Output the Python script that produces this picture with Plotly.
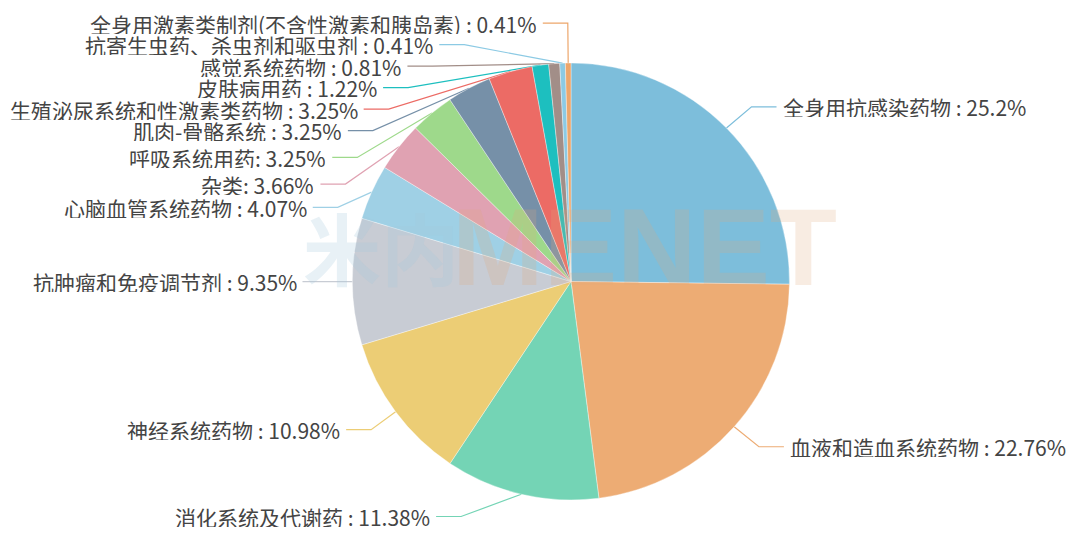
import math
import plotly.graph_objects as go

# 药品类别及占比 (%)，顺时针从12点方向开始
categories = [
    '全身用抗感染药物', '血液和造血系统药物', '消化系统及代谢药', '神经系统药物',
    '抗肿瘤和免疫调节剂', '心脑血管系统药物', '杂类', '呼吸系统用药',
    '肌肉-骨骼系统', '生殖泌尿系统和性激素类药物', '皮肤病用药', '感觉系统药物',
    '抗寄生虫药、杀虫剂和驱虫剂', '全身用激素类制剂(不含性激素和胰岛素)',
]
shares = [25.2, 22.76, 11.38, 10.98, 9.35, 4.07, 3.66, 3.25, 3.25, 3.25, 1.22, 0.81, 0.41, 0.41]
separators = [' : ', ' : ', ' : ', ' : ', ' : ', ' : ', ': ', ': ', ' : ', ' : ', ' : ', ' : ', ' : ', ' : ']
colors = [
    '#7dbedb', '#edac74', '#74d4b5', '#eccd75', '#c8ccd4', '#9fd0e5', '#e0a2b2',
    '#9ed98b', '#7690a8', '#ec6b65', '#1dbfbf', '#a28e88', '#8ccae4', '#eda66b',
]

W, H = 1080, 538
CX, CY, R = 571, 281.5, 218.5
LEN1, LEN2, GAP = 30, 25, 5
LINE_H = 21.5

# ---- 标签布局 (类似 echarts 的外部标签 + 引导线) ----
total = sum(shares)
items = []
acc = 0
for i, v in enumerate(shares):
    mid = (acc + v / 2) / total * 2 * math.pi
    acc += v
    dx, dy = math.sin(mid), -math.cos(mid)
    side = 1 if dx >= 0 else -1
    x1 = CX + (R + LEN1) * dx
    items.append(dict(i=i, side=side,
                      x0=CX + R * dx, y0=CY + R * dy,
                      y=CY + (R + LEN1) * dy,
                      tx=x1 + side * (LEN2 + GAP)))


def change_x(lst, is_down, side):
    last = float('inf') if is_down else 0
    for it in lst:
        ady = abs(it['y'] - CY)
        if ady < R + LEN1:
            ddx = math.sqrt((R + LEN1 + LEN2) ** 2 - ady ** 2)
        else:
            ddx = abs(it['tx'] - CX)
        if is_down and ddx >= last:
            ddx = last - 10
        if not is_down and ddx <= last:
            ddx = last + 10
        it['tx'] = CX + ddx * side
        last = ddx


def adjust_side(lst, side):
    lst.sort(key=lambda it: it['y'])
    n = len(lst)

    def shift_up(end, delta):
        for j in range(end, -1, -1):
            if lst[j]['y'] - delta < 0:
                break
            lst[j]['y'] -= delta
            if j > 0 and lst[j]['y'] > lst[j - 1]['y'] + LINE_H:
                break

    def shift_down(start, end, delta):
        for j in range(start, end):
            if lst[j]['y'] + delta > H:
                break
            lst[j]['y'] += delta
            if j > start and j + 1 < end and lst[j + 1]['y'] > lst[j]['y'] + LINE_H:
                shift_up(j, delta / 2)
                return
        shift_up(end - 1, delta / 2)

    last = 0
    for k in range(n):
        d = lst[k]['y'] - last
        if d < 0:
            shift_down(k, n, -d)
        last = lst[k]['y'] + LINE_H
    if H - last < 0:
        shift_up(n - 1, last - H)
    change_x([it for it in lst if it['y'] < CY], False, side)
    change_x([it for it in lst if it['y'] >= CY], True, side)


adjust_side([it for it in items if it['side'] > 0], 1)
adjust_side([it for it in items if it['side'] < 0], -1)


def px(x):
    return x / W


def py(y):
    return 1 - y / H


fig = go.Figure(go.Pie(
    labels=categories,
    values=shares,
    sort=False,
    direction='clockwise',
    rotation=0,
    marker=dict(colors=colors, line=dict(color='rgba(255,255,255,0.6)', width=0.6)),
    textinfo='none',
    hoverinfo='label+percent',
    showlegend=False,
    domain=dict(x=[px(CX - R), px(CX + R)], y=[py(CY + R), py(CY - R)]),
))

shapes = []
annotations = []
for it in items:
    i, s = it['i'], it['side']
    x2 = it['tx'] - s * GAP
    x1 = x2 - s * LEN2
    y = it['y']
    path = 'M {:.5f},{:.5f} L {:.5f},{:.5f} L {:.5f},{:.5f}'.format(
        px(it['x0']), py(it['y0']), px(x1), py(y), px(x2), py(y))
    shapes.append(dict(type='path', path=path, xref='paper', yref='paper',
                       line=dict(color=colors[i], width=1.2), layer='below'))
    annotations.append(dict(
        x=px(it['tx']), y=py(y), xref='paper', yref='paper',
        text=f'{categories[i]}{separators[i]}{shares[i]:g}%',
        showarrow=False, xanchor='left' if s > 0 else 'right', yanchor='middle',
        height=21, valign='middle', borderpad=0,
        font=dict(family='Noto Sans CJK SC', size=21, color='#444444'),
    ))

# 水印
annotations.append(dict(x=px(381), y=py(246), xref='paper', yref='paper', text='米内',
                        showarrow=False, xanchor='center', yanchor='middle',
                        font=dict(family='Noto Sans CJK SC', size=78, weight='bold',
                                  color='rgba(165,198,218,0.25)')))
annotations.append(dict(x=px(644), y=py(246), xref='paper', yref='paper', text='MENET',
                        showarrow=False, xanchor='center', yanchor='middle',
                        font=dict(family='Liberation Sans', size=110, weight='bold',
                                  color='rgba(225,170,125,0.22)')))

fig.update_layout(
    width=W, height=H,
    margin=dict(l=0, r=0, t=0, b=0),
    paper_bgcolor='white',
    plot_bgcolor='white',
    shapes=shapes,
    annotations=annotations,
)

fig.write_html('out.html', config={'displayModeBar': False},
               post_script="document.body.style.margin='0';")
